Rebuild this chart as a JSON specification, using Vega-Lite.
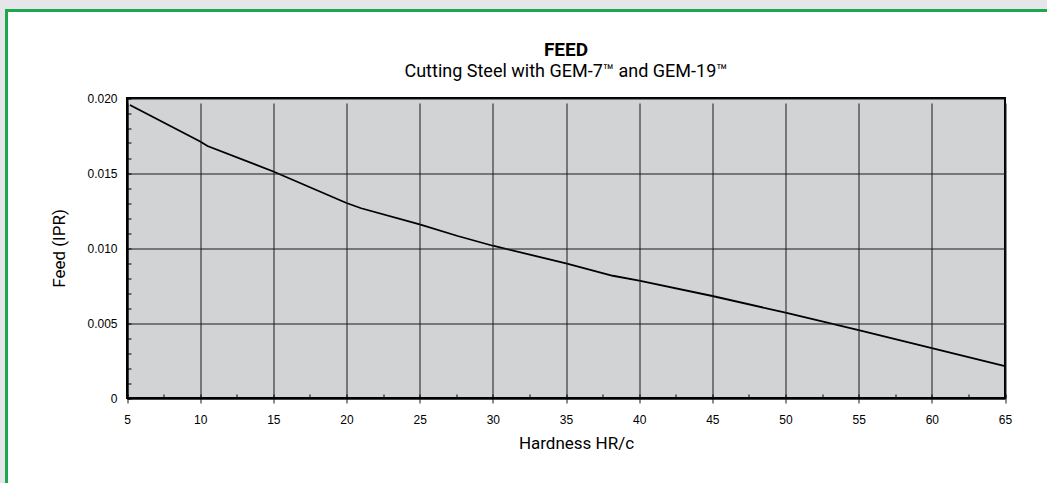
{
  "$schema": "https://vega.github.io/schema/vega-lite/v6.json",
  "autosize": {"type": "none"},
  "width": 1060,
  "height": 480,
  "padding": {"left": 6.5, "top": 10.5, "right": -19.5, "bottom": -7.5},
  "background": "#e6e6ea",
  "config": {
    "view": {"fill": "white", "stroke": "#1ba84d", "strokeWidth": 3},
    "font": "Roboto"
  },
  "title": {
    "text": "FEED",
    "subtitle": "Cutting Steel with GEM-7™ and GEM-19™",
    "font": "Roboto",
    "fontSize": 19,
    "fontWeight": "bold",
    "color": "black",
    "subtitleFont": "Roboto",
    "subtitleFontSize": 18,
    "subtitleColor": "black",
    "subtitlePadding": 3,
    "anchor": "middle",
    "frame": "group",
    "dx": 29.5,
    "offset": -70
  },
  "data": {
    "values": [
      {"hardness": 5.2, "feed": 0.01953},
      {"hardness": 10, "feed": 0.0171},
      {"hardness": 10.5, "feed": 0.0168},
      {"hardness": 15, "feed": 0.0151},
      {"hardness": 20, "feed": 0.0130},
      {"hardness": 21, "feed": 0.01265},
      {"hardness": 25, "feed": 0.01158},
      {"hardness": 27.6, "feed": 0.0108},
      {"hardness": 30, "feed": 0.01015},
      {"hardness": 35, "feed": 0.00898},
      {"hardness": 38.2, "feed": 0.00815},
      {"hardness": 40, "feed": 0.00782},
      {"hardness": 45, "feed": 0.0068},
      {"hardness": 50, "feed": 0.00569},
      {"hardness": 55, "feed": 0.00453},
      {"hardness": 60, "feed": 0.00333},
      {"hardness": 65, "feed": 0.00213}
    ]
  },
  "layer": [
    {
      "data": {"values": [{}]},
      "mark": {"type": "rect", "fill": "#d2d3d5", "stroke": "black", "strokeWidth": 2},
      "encoding": {
        "x": {"datum": 5, "type": "quantitative"},
        "x2": {"datum": 65},
        "y": {"datum": 0, "type": "quantitative"},
        "y2": {"datum": 0.02}
      }
    },
    {
      "mark": {"type": "line", "color": "black", "strokeWidth": 1.8},
      "encoding": {
        "x": {
          "field": "hardness",
          "type": "quantitative",
          "scale": {"domain": [5, 65], "range": [120.5, 998.5], "nice": false, "zero": false},
          "axis": {
            "title": "Hardness HR/c",
            "titleFont": "Roboto",
            "titleFontSize": 17,
            "titleFontWeight": "normal",
            "titleColor": "black",
            "titlePadding": 10,
            "titleX": 569.5,
            "values": [5, 7.5, 10, 12.5, 15, 17.5, 20, 22.5, 25, 27.5, 30, 32.5, 35, 37.5, 40, 42.5, 45, 47.5, 50, 52.5, 55, 57.5, 60, 62.5, 65],
            "tickCount": 30,
            "labelExpr": "indexof([5,10,15,20,25,30,35,40,45,50,55,60,65], datum.value) >= 0 ? toString(datum.value) : ''",
            "labelFont": "Liberation Sans",
            "labelFontSize": 12,
            "labelColor": "black",
            "labelPadding": 20,
            "labelFlush": false,
            "labelOverlap": false,
            "tickSize": -4,
            "tickColor": "black",
            "tickWidth": 1,
            "domainColor": "black",
            "domainWidth": 2,
            "grid": true,
            "gridColor": "#1a1a1a",
            "gridWidth": 1,
            "gridOpacity": {"condition": {"test": "indexof([5,10,15,20,25,30,35,40,45,50,55,60,65], datum.value) >= 0", "value": 1}, "value": 0},
            "offset": -92.5,
            "zindex": 1
          }
        },
        "y": {
          "field": "feed",
          "type": "quantitative",
          "scale": {"domain": [0, 0.02], "range": [387.5, 87.5], "nice": false, "zero": false},
          "axis": {
            "title": "Feed (IPR)",
            "titleFont": "Roboto",
            "titleFontSize": 17,
            "titleFontWeight": "normal",
            "titleColor": "black",
            "titlePadding": 18,
            "values": [0, 0.001, 0.002, 0.003, 0.004, 0.005, 0.006, 0.007, 0.008, 0.009, 0.01, 0.011, 0.012, 0.013, 0.014, 0.015, 0.016, 0.017, 0.018, 0.019, 0.02],
            "tickCount": 25,
            "labelExpr": "indexof([0.005,0.01,0.015,0.02], datum.value) >= 0 ? format(datum.value, '.3f') : (datum.value === 0 ? '0' : '')",
            "labelFont": "Liberation Sans",
            "labelFontSize": 12,
            "labelColor": "black",
            "labelPadding": 14,
            "labelFlush": false,
            "labelOverlap": false,
            "tickSize": -4,
            "tickColor": "black",
            "tickWidth": 1,
            "domainColor": "black",
            "domainWidth": 2,
            "grid": true,
            "gridColor": "#1a1a1a",
            "gridWidth": 1,
            "gridOpacity": {"condition": {"test": "indexof([0,0.005,0.01,0.015,0.02], datum.value) >= 0", "value": 1}, "value": 0},
            "offset": -120.5,
            "zindex": 1
          }
        }
      }
    }
  ]
}
